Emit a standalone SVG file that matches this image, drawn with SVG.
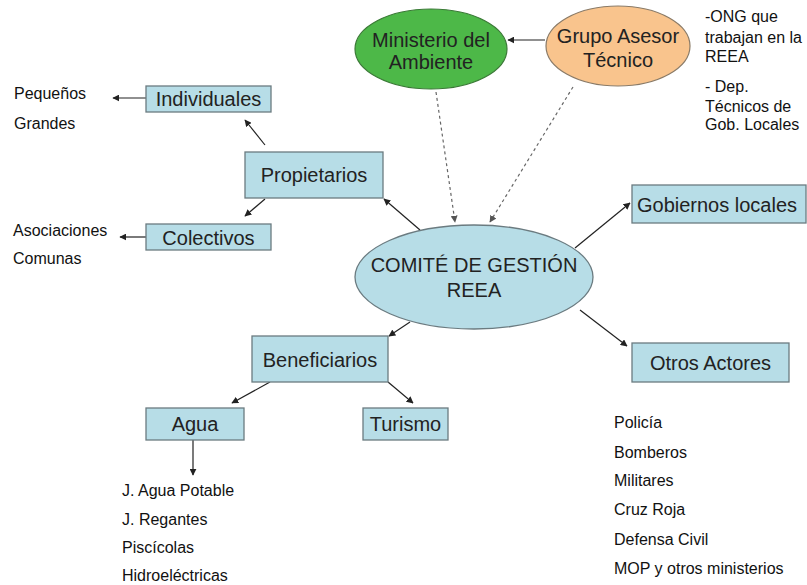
<svg xmlns="http://www.w3.org/2000/svg" width="807" height="585" viewBox="0 0 807 585">
<defs>
<marker id="ah" viewBox="0 0 10 10" refX="9" refY="5" markerWidth="7" markerHeight="7" markerUnits="userSpaceOnUse" orient="auto">
<path d="M0,0 L10,5 L0,10 z" fill="#222"/>
</marker>
<marker id="ahd" viewBox="0 0 10 10" refX="9" refY="5" markerWidth="7" markerHeight="7" markerUnits="userSpaceOnUse" orient="auto">
<path d="M0,0 L10,5 L0,10 z" fill="#555"/>
</marker>
</defs>
<style>
.box{fill:#B7DDE7;stroke:#6B7B80;stroke-width:1.3}
.lbl{font-family:"Liberation Sans",Arial,sans-serif;font-size:20px;fill:#222;text-anchor:middle}
.sm{font-family:"Liberation Sans",Arial,sans-serif;font-size:16px;fill:#111}
.ln{stroke:#222;stroke-width:1.2;fill:none;marker-end:url(#ah)}
.dl{stroke:#666;stroke-width:1.2;fill:none;stroke-dasharray:3,3;marker-end:url(#ahd)}
</style>
<rect width="807" height="585" fill="#fff"/>
<g id="connectors">
<line class="ln" x1="545" y1="40" x2="508" y2="40"/>
<line class="dl" x1="436" y1="92" x2="455" y2="222"/>
<line class="dl" x1="573" y1="87" x2="490" y2="222"/>
<line class="ln" x1="146" y1="98" x2="113" y2="98"/>
<line class="ln" x1="265" y1="145" x2="245" y2="120"/>
<line class="ln" x1="265" y1="199" x2="245" y2="216"/>
<line class="ln" x1="146" y1="237" x2="120" y2="237"/>
<line class="ln" x1="420" y1="230" x2="384" y2="199"/>
<line class="ln" x1="575" y1="248" x2="630" y2="203"/>
<line class="ln" x1="580" y1="310" x2="627" y2="346"/>
<line class="ln" x1="410" y1="322" x2="389" y2="336"/>
<line class="ln" x1="270" y1="382" x2="232" y2="403"/>
<line class="ln" x1="388" y1="382" x2="413" y2="403"/>
<line class="ln" x1="193" y1="440" x2="193" y2="475"/>
</g>
<g id="ministerio">
<ellipse cx="431" cy="49" rx="76" ry="40" fill="#4DB848" stroke="#3A7A36" stroke-width="1.2"/>
<text class="lbl" x="431" y="47">Ministerio del</text>
<text class="lbl" x="431" y="69">Ambiente</text>
</g>
<g id="grupo">
<ellipse cx="618" cy="46" rx="72" ry="40" fill="#F9C48D" stroke="#8A7A66" stroke-width="1.2"/>
<text class="lbl" x="618" y="43">Grupo Asesor</text>
<text class="lbl" x="618" y="67">Técnico</text>
</g>
<g id="grupo-notes">
<text class="sm" x="705" y="22">-ONG que</text>
<text class="sm" x="705" y="43">trabajan en la</text>
<text class="sm" x="705" y="62">REEA</text>
<text class="sm" x="705" y="92">- Dep.</text>
<text class="sm" x="705" y="112">Técnicos de</text>
<text class="sm" x="705" y="130">Gob. Locales</text>
</g>
<g id="comite">
<ellipse cx="474" cy="277" rx="119" ry="52" fill="#B7DDE7" stroke="#6B7B80" stroke-width="1.3"/>
<text class="lbl" x="474" y="272" font-size="20.5">COMITÉ DE GESTIÓN</text>
<text class="lbl" x="474" y="297" font-size="20.5">REEA</text>
</g>
<g id="propietarios">
<rect class="box" x="245" y="152" width="138" height="46"/>
<text class="lbl" x="314" y="182">Propietarios</text>
</g>
<g id="individuales">
<rect class="box" x="146" y="86" width="125" height="26"/>
<text class="lbl" x="208.5" y="106">Individuales</text>
</g>
<g id="colectivos">
<rect class="box" x="146" y="224" width="125" height="26"/>
<text class="lbl" x="208.5" y="245">Colectivos</text>
</g>
<g id="individuales-notes">
<text class="sm" x="14" y="99">Pequeños</text>
<text class="sm" x="14" y="129">Grandes</text>
</g>
<g id="colectivos-notes">
<text class="sm" x="13" y="236">Asociaciones</text>
<text class="sm" x="13" y="264">Comunas</text>
</g>
<g id="gobiernos">
<rect class="box" x="632" y="185" width="174" height="38"/>
<text class="lbl" x="717" y="212">Gobiernos locales</text>
</g>
<g id="otros">
<rect class="box" x="632" y="343" width="157" height="39"/>
<text class="lbl" x="710.5" y="370">Otros Actores</text>
</g>
<g id="otros-notes">
<text class="sm" x="614" y="428">Policía</text>
<text class="sm" x="614" y="458">Bomberos</text>
<text class="sm" x="614" y="486">Militares</text>
<text class="sm" x="614" y="515">Cruz Roja</text>
<text class="sm" x="614" y="545">Defensa Civil</text>
<text class="sm" x="614" y="574">MOP y otros ministerios</text>
</g>
<g id="beneficiarios">
<rect class="box" x="252" y="336" width="136" height="46"/>
<text class="lbl" x="320" y="367">Beneficiarios</text>
</g>
<g id="agua">
<rect class="box" x="146" y="408" width="98" height="32"/>
<text class="lbl" x="195" y="431">Agua</text>
</g>
<g id="turismo">
<rect class="box" x="363" y="408" width="85" height="32"/>
<text class="lbl" x="405.5" y="431">Turismo</text>
</g>
<g id="agua-notes">
<text class="sm" x="122" y="496">J. Agua Potable</text>
<text class="sm" x="122" y="525">J. Regantes</text>
<text class="sm" x="122" y="553">Piscícolas</text>
<text class="sm" x="122" y="581">Hidroeléctricas</text>
</g>
</svg>
